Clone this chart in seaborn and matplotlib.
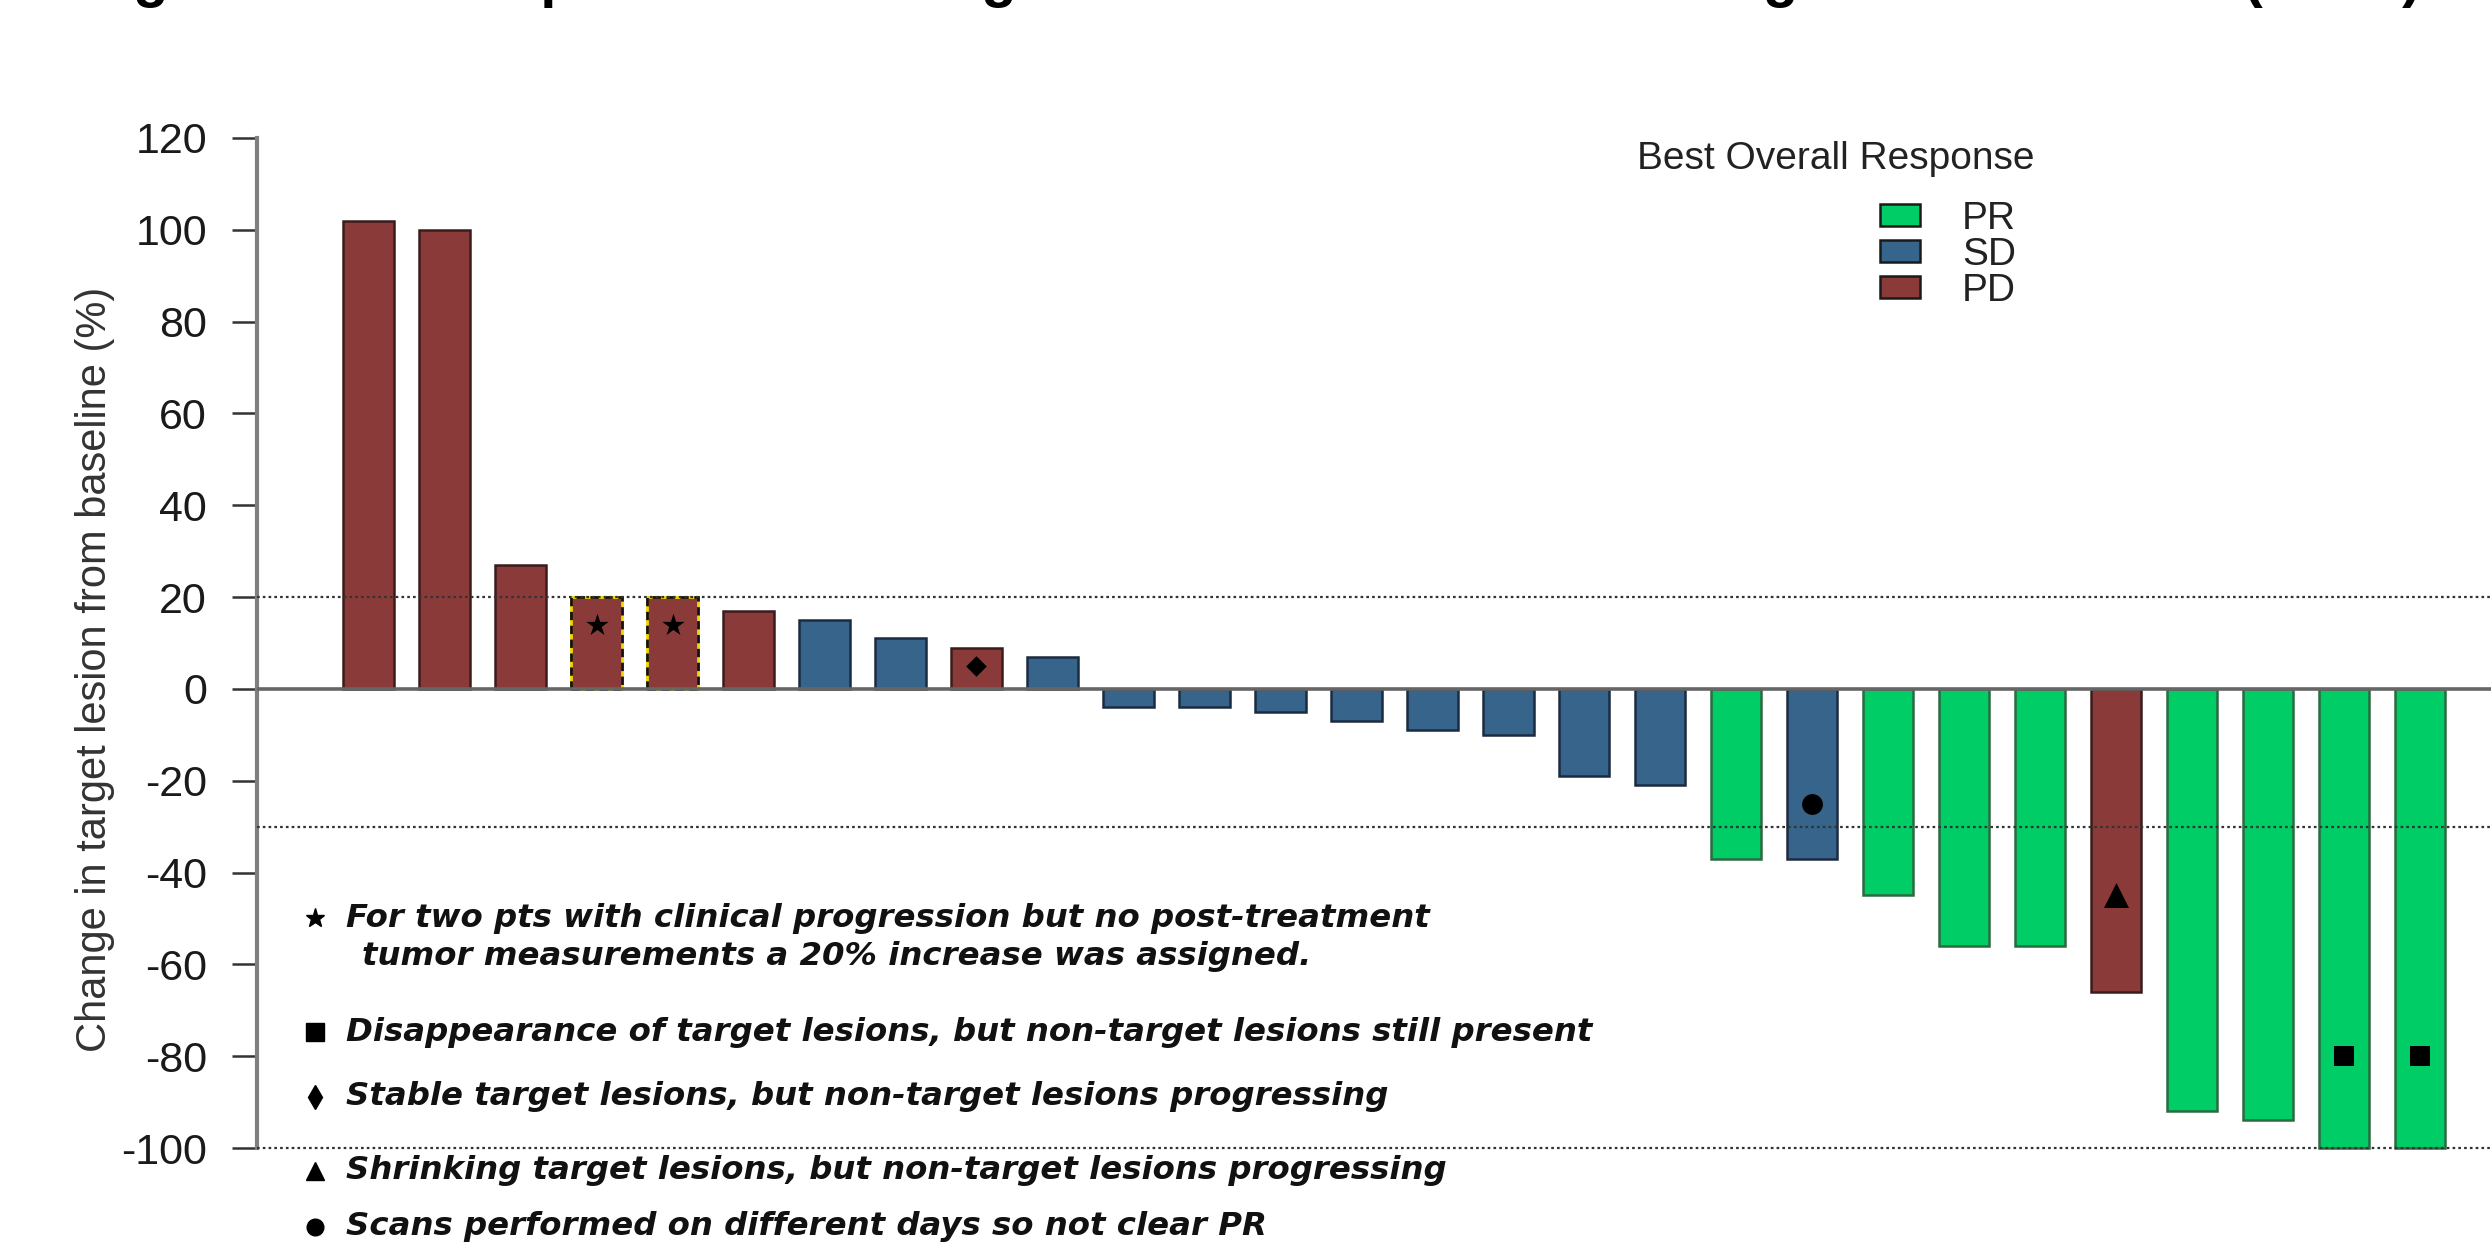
import numpy as np
import pandas as pd
import matplotlib
matplotlib.use("Agg")
import matplotlib.pyplot as plt
import seaborn as sns
from matplotlib.patches import Patch, Rectangle
from matplotlib.lines import Line2D

# ---------------- data ----------------
patients = [str(i) for i in range(1, 29)]
change = [102, 100, 27, 20, 20, 17, 15, 11, 9, 7, -4, -4, -5, -7, -9, -10,
          -19, -21, -37, -37, -45, -56, -56, -66, -92, -94, -100, -100]
response = ["PD", "PD", "PD", "PD", "PD", "PD", "SD", "SD", "PD", "SD",
            "SD", "SD", "SD", "SD", "SD", "SD", "SD", "SD", "PR", "SD",
            "PR", "PR", "PR", "PD", "PR", "PR", "PR", "PR"]
response_order = ["PR", "SD", "PD"]
response_colors = ["#00CD66", "#36648B", "#8B3A3A"]
response_edges = ["#2A6B40", "#1B2B40", "#3A1C1C"]

assigned_idx = [3, 4]            # clinical progression, 20% assigned
star_idx, star_y = [3, 4], [14, 14]
diamond_idx, diamond_y = [8], [5]
circle_idx, circle_y = [19], [-25]
triangle_idx, triangle_y = [23], [-45]
square_idx, square_y = [26, 27], [-80, -80]

yticks = [-100, -80, -60, -40, -20, 0, 20, 40, 60, 80, 100, 120]
ref_lines = [20, -30, -100]

title = "Figure: Best Response in the Target Lesions: Maximum Change from Baseline (N=28)"
ylabel = "Change in target lesion from baseline (%)"
legend_title = "Best Overall Response"
notes = [
    ("*", "For two pts with clinical progression but no post-treatment"),
    ("", "tumor measurements a 20% increase was assigned."),
    ("s", "Disappearance of target lesions, but non-target lesions still present"),
    ("d", "Stable target lesions, but non-target lesions progressing"),
    ("^", "Shrinking target lesions, but non-target lesions progressing"),
    ("o", "Scans performed on different days so not clear PR"),
]

df = pd.DataFrame({"patient": patients, "change": change, "response": response})

# ---------------- style ----------------
sns.set_theme(style="white")
plt.rcParams["font.family"] = ["Liberation Sans", "DejaVu Sans"]

W, H = 2491, 1244
fig = plt.figure(figsize=(W / 100, H / 100), dpi=100)
ax = fig.add_axes([257 / W, 0.0624, 1 - 257 / W, 0.8415])

palette = dict(zip(response_order, response_colors))

sns.barplot(data=df, x="patient", y="change", hue="response",
            hue_order=response_order, order=patients, palette=palette,
            dodge=False, width=0.66, saturation=1, errorbar=None,
            legend=False, linewidth=1.8, edgecolor="#222222", ax=ax, zorder=3)

for p in list(ax.patches):
    fc = matplotlib.colors.to_hex(p.get_facecolor())
    for c, e in zip(response_colors, response_edges):
        if fc.lower() == c.lower():
            p.set_edgecolor(e)
    idx = int(round(p.get_x() + p.get_width() / 2))
    if idx in assigned_idx:
        p.set_edgecolor("#F2D500")
        p.set_linewidth(2.0)
        ax.add_patch(Rectangle(p.get_xy(), p.get_width(), p.get_height(),
                               fill=False, edgecolor="#111111",
                               linewidth=2.0, linestyle=(0, (3, 2)), zorder=4))

# reference lines
ax.axhline(0, color="#666666", lw=2.6, zorder=5)
for r in ref_lines:
    ax.axhline(r, color="#333333", lw=1.6, ls=(0, (1.2, 1.4)), zorder=6)

# markers on bars
mk = dict(color="black", zorder=7, linewidths=0)
ax.scatter(star_idx, star_y, marker="*", s=17 ** 2, **mk)
ax.scatter(diamond_idx, diamond_y, marker="D", s=10.5 ** 2, **mk)
ax.scatter(circle_idx, circle_y, marker="o", s=15 ** 2, **mk)
ax.scatter(triangle_idx, triangle_y, marker="^", s=18 ** 2, **mk)
ax.scatter(square_idx, square_y, marker="s", s=14 ** 2, **mk)

# axes
ax.set_xlim(-1.468, 27.93)
ax.set_ylim(-104, 124)
ax.set_yticks(yticks)
ax.set_yticklabels([str(t) for t in yticks], fontsize=31, color="#1A1A1A")
ax.set_xticks([])
ax.set_xlabel("")
for s in ["top", "right", "bottom"]:
    ax.spines[s].set_visible(False)
ax.spines["left"].set_color("#7F7F7F")
ax.spines["left"].set_linewidth(3.0)
ax.spines["left"].set_bounds(-100, 120)
ax.tick_params(axis="y", direction="out", length=18, width=1.8,
               color="#333333", pad=18, left=True)
ax.set_ylabel(ylabel, fontsize=30, color="#333333")
ax.yaxis.set_label_coords(-0.0636, 0.4752)
ax.set_facecolor("white")

# legend
handles = [Patch(facecolor=c, edgecolor="#1A1A1A", linewidth=1.8, label=l)
           for l, c in zip(response_order, response_colors)]
fig.legend(handles=handles, loc="upper left",
           bbox_to_anchor=(1880 / W, 1 - 201 / H), bbox_transform=fig.transFigure,
           frameon=False, borderpad=0, borderaxespad=0, handlelength=1.03,
           handleheight=0.49, handletextpad=1.08, labelspacing=0.0,
           fontsize=28, labelcolor="#222222")
fig.text(1836 / W, 1 - 159 / H, legend_title, ha="center", va="center",
         fontsize=28, color="#222222")

# footnotes
note_y = [918, 956, 1032, 1097, 1171, 1227]
msizes = {"*": 14, "s": 13, "d": 12, "^": 13, "o": 12}
for (m, txt), yy in zip(notes, note_y):
    yf = 1 - yy / H
    if m:
        fig.add_artist(Line2D([315 / W], [yf], marker=m, markersize=msizes[m],
                              color="black", linestyle="none",
                              transform=fig.transFigure))
        x0 = 346 / W
    else:
        x0 = 362 / W
    fig.text(x0, yf, txt, ha="left", va="center", fontsize=23.3,
             family=["DejaVu Sans"], fontweight="bold", fontstyle="italic",
             color="#111111")

# (cropped) title
fig.text(82 / W, 1 + 4 / H, title, ha="left", va="baseline",
         fontsize=41.5, fontweight="bold", color="black")

fig.savefig("out.png", dpi=100, facecolor="white")
